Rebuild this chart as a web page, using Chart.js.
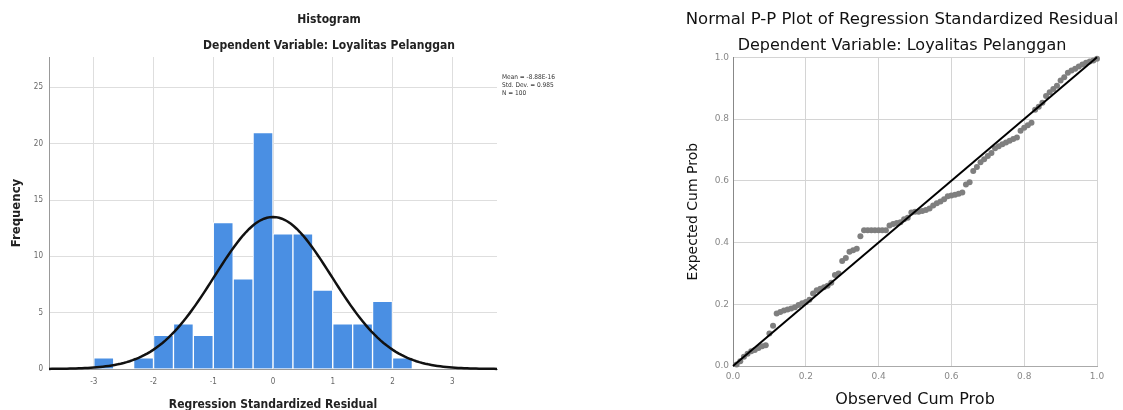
<!DOCTYPE html>
<html><head><meta charset="utf-8">
<script src="https://cdn.jsdelivr.net/npm/chart.js@4.4.1/dist/chart.umd.min.js"></script>
<style>
html,body{margin:0;padding:0;background:#fff;width:1123px;height:410px;overflow:hidden}
#h{position:absolute;left:0;top:0}
#p{position:absolute;left:681px;top:0}
#stats{position:absolute;left:502px;top:73px;font:6.5px 'Liberation Sans Narrow','DejaVu Sans Condensed',sans-serif;line-height:8px;color:#333;white-space:nowrap}
</style></head><body>
<canvas id="h" width="658" height="410"></canvas>
<canvas id="p" width="442" height="410"></canvas>
<div id="stats">Mean = -8.88E-16<br>Std. Dev. = 0.985<br>N = 100</div>
<script>
// ---------- Histogram data ----------
const binCenters = [-2.833, -2.5, -2.167, -1.833, -1.5, -1.167, -0.833, -0.5, -0.167, 0.167, 0.5, 0.833, 1.167, 1.5, 1.833, 2.167];
const frequencies = [1, 0, 1, 3, 4, 3, 13, 8, 21, 12, 12, 7, 4, 4, 6, 1];
const histXTicks = [-3, -2, -1, 0, 1, 2, 3];
const histYTicks = [0, 5, 10, 15, 20, 25];
const residualMean = -8.88e-16;
const residualStdDev = 0.985;
const residualN = 100;
const binWidth = 1 / 3;

// ---------- P-P plot data ----------
const observedCumProb = [
 0.01,0.02,0.03,0.04,0.05,0.06,0.07,0.08,0.09,0.10,
 0.11,0.12,0.13,0.14,0.15,0.16,0.17,0.18,0.19,0.20,
 0.21,0.22,0.23,0.24,0.25,0.26,0.27,0.28,0.29,0.30,
 0.31,0.32,0.33,0.34,0.35,0.36,0.37,0.38,0.39,0.40,
 0.41,0.42,0.43,0.44,0.45,0.46,0.47,0.48,0.49,0.50,
 0.51,0.52,0.53,0.54,0.55,0.56,0.57,0.58,0.59,0.60,
 0.61,0.62,0.63,0.64,0.65,0.66,0.67,0.68,0.69,0.70,
 0.71,0.72,0.73,0.74,0.75,0.76,0.77,0.78,0.79,0.80,
 0.81,0.82,0.83,0.84,0.85,0.86,0.87,0.88,0.89,0.90,
 0.91,0.92,0.93,0.94,0.95,0.96,0.97,0.98,0.99,1.00];
const expectedCumProb = [
 0.005,0.015,0.03,0.04,0.048,0.052,0.058,0.064,0.067,0.105,
 0.13,0.17,0.175,0.18,0.183,0.186,0.19,0.198,0.203,0.207,
 0.215,0.235,0.245,0.25,0.255,0.26,0.27,0.295,0.30,0.34,
 0.35,0.37,0.375,0.38,0.42,0.44,0.44,0.44,0.44,0.44,
 0.44,0.44,0.455,0.46,0.463,0.466,0.475,0.48,0.497,0.50,
 0.50,0.502,0.505,0.51,0.52,0.527,0.533,0.54,0.55,0.552,
 0.555,0.558,0.562,0.588,0.595,0.632,0.645,0.66,0.67,0.68,
 0.69,0.705,0.712,0.718,0.724,0.73,0.735,0.74,0.762,0.772,
 0.78,0.788,0.83,0.84,0.853,0.875,0.887,0.897,0.908,0.925,
 0.935,0.95,0.957,0.963,0.97,0.977,0.982,0.986,0.99,0.995];
const ppTicks = [0, 0.2, 0.4, 0.6, 0.8, 1.0];
const diagonal = [0, 1];

// fitted normal curve from the stated mean / std. dev. / N
const curvePts = [];
for (let x = -3.75; x <= 3.7501; x += 0.05) {
  const z = (x - residualMean) / residualStdDev;
  curvePts.push({x: x, y: residualN * binWidth * Math.exp(-0.5 * z * z) / (residualStdDev * Math.sqrt(2 * Math.PI))});
}

const narrow = "'Liberation Sans Narrow','DejaVu Sans Condensed',sans-serif";
const dejavu = "'DejaVu Sans',sans-serif";

new Chart(document.getElementById('h'), {
  type: 'bar',
  data: {
    datasets: [
      {type: 'line', data: curvePts, borderColor: '#111', borderWidth: 2.5, pointRadius: 0, tension: 0, order: 0, clip: false},
      {type: 'bar', data: binCenters.map((c, i) => ({x: c, y: frequencies[i]})), backgroundColor: '#4a8fe3',
       borderColor: '#ffffff', borderWidth: 1, barPercentage: 1, categoryPercentage: 1, order: 1}
    ]
  },
  options: {
    responsive: false, animation: false,
    layout: {padding: 0},
    plugins: {
      legend: {display: false}, tooltip: {enabled: false},
      title: {display: true, text: 'Histogram', color: '#222', font: {family: narrow, size: 12, weight: 'bold', lineHeight: 1.2}, padding: {top: 12.8, bottom: 0}},
      subtitle: {display: true, text: 'Dependent Variable: Loyalitas Pelanggan', color: '#222', font: {family: narrow, size: 12, weight: 'bold', lineHeight: 1.2}, padding: {top: 11.6, bottom: 3.8}}
    },
    scales: {
      x: {type: 'linear', min: -3.75, max: 3.75, offset: false,
          grid: {color: '#dedede', offset: false, drawTicks: false},
          border: {display: true, color: '#999'},
          afterBuildTicks: s => { s.ticks = histXTicks.map(v => ({value: v})); },
          ticks: {color: '#666', font: {family: narrow, size: 8}, padding: 8},
          title: {display: true, text: 'Regression Standardized Residual', color: '#222', font: {family: narrow, size: 12, weight: 'bold', lineHeight: 0.9}, padding: 0},
          afterFit: s => { s.height = 41; }},
      y: {min: 0, max: 27.7,
          grid: {color: '#dedede', drawTicks: false},
          border: {display: true, color: '#999'},
          afterBuildTicks: s => { s.ticks = histYTicks.map(v => ({value: v})); },
          ticks: {color: '#666', font: {family: narrow, size: 8}, padding: 6},
          title: {display: true, text: 'Frequency', color: '#222', font: {family: narrow, size: 13, weight: 'bold', lineHeight: 1.2}, padding: {top: 9.2, bottom: 0}},
          afterFit: s => { s.width = 49; }},
      yR: {position: 'right', display: true, grid: {display: false}, border: {display: false}, ticks: {display: false},
           afterFit: s => { s.width = 161; }}
    }
  }
});

new Chart(document.getElementById('p'), {
  type: 'scatter',
  data: {
    datasets: [
      {type: 'line', data: diagonal.map(v => ({x: v, y: v})), borderColor: '#000', borderWidth: 2, pointRadius: 0, order: 0, clip: false},
      {type: 'scatter', data: observedCumProb.map((v, i) => ({x: v, y: expectedCumProb[i]})), backgroundColor: '#7f7f7f',
       pointRadius: 3, pointBorderWidth: 0, order: 1, clip: false}
    ]
  },
  options: {
    responsive: false, animation: false,
    layout: {padding: 0},
    plugins: {
      legend: {display: false}, tooltip: {enabled: false},
      title: {display: true, text: 'Normal P-P Plot of Regression Standardized Residual', color: '#111', font: {family: dejavu, size: 16.5, weight: 'normal', lineHeight: 1.2}, padding: {top: 10.1, bottom: 0}},
      subtitle: {display: true, text: 'Dependent Variable: Loyalitas Pelanggan', color: '#111', font: {family: dejavu, size: 16, weight: 'normal', lineHeight: 1.2}, padding: {top: 6.8, bottom: 1.4}}
    },
    scales: {
      x: {type: 'linear', min: 0, max: 1,
          grid: {color: '#d4d4d4', drawTicks: false},
          border: {display: true, color: '#aaa'},
          afterBuildTicks: s => { s.ticks = ppTicks.map(v => ({value: v})); },
          ticks: {color: '#888', font: {family: dejavu, size: 9}, padding: 5.5, callback: v => Number(v).toFixed(1)},
          title: {display: true, text: 'Observed Cum Prob', color: '#111', font: {family: dejavu, size: 16, lineHeight: 1.2}, padding: {top: 0, bottom: 0.4}},
          afterFit: s => { s.height = 44; }},
      y: {type: 'linear', min: 0, max: 1,
          grid: {color: '#d4d4d4', drawTicks: false},
          border: {display: true, color: '#888'},
          afterBuildTicks: s => { s.ticks = ppTicks.map(v => ({value: v})); },
          ticks: {color: '#888', font: {family: dejavu, size: 9}, padding: 4, callback: v => Number(v).toFixed(1)},
          title: {display: true, text: 'Expected Cum Prob', color: '#111', font: {family: dejavu, size: 14, lineHeight: 1.2}, padding: {top: 3.6, bottom: 0}},
          afterFit: s => { s.width = 52; }},
      yR: {position: 'right', display: true, grid: {display: false}, border: {display: false}, ticks: {display: false},
           afterFit: s => { s.width = 26; }}
    }
  }
});
</script>
</body></html>
